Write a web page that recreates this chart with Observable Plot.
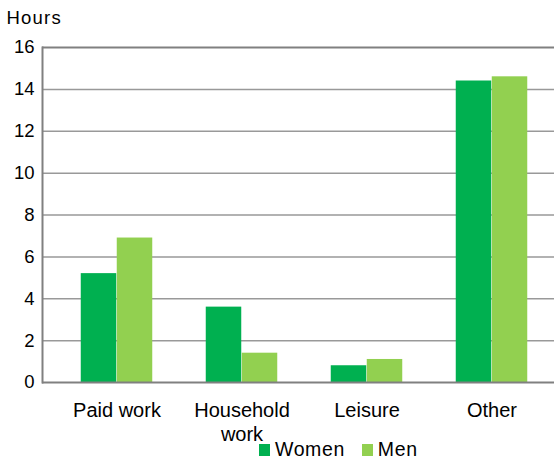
<!DOCTYPE html>
<html>
<head>
<meta charset="utf-8">
<script src="https://cdn.jsdelivr.net/npm/d3@7"></script>
<script src="https://cdn.jsdelivr.net/npm/@observablehq/plot@0.6"></script>
<style>
  body { margin: 0; background: #fff; font-family: "Liberation Sans", Arial, sans-serif; }
  #wrap { position: relative; width: 554px; height: 461px; overflow: hidden; }
  #legend { position: absolute; left: 259px; top: 440px; font-size: 19.5px; line-height: 19px; display: flex; align-items: center; color: #000; letter-spacing: 0.6px; }
  #legend .sw { display: inline-block; width: 11px; height: 12px; margin-right: 5px; }
  #legend .item { display: flex; align-items: center; margin-right: 17px; }
</style>
</head>
<body>
<div id="wrap"><div id="legend"></div></div>
<script>
const categories = ["Paid work", "Household\nwork", "Leisure", "Other"];
const women = [5.2, 3.6, 0.8, 14.4];
const men = [6.9, 1.4, 1.1, 14.6];
const yTicks = [0, 2, 4, 6, 8, 10, 12, 14, 16];
const seriesNames = ["Women", "Men"];
const seriesColors = ["#00B050", "#92D050"];

const data = categories.map((c, i) => ({cat: c, women: women[i], men: men[i]}));

const chart = Plot.plot({
  width: 554,
  height: 461,
  marginLeft: 42,
  marginRight: 0,
  marginTop: 47,
  marginBottom: 79,
  style: {fontFamily: "'Liberation Sans', Arial, sans-serif", fontSize: "18.5px", color: "#000", background: "#fff", overflow: "visible"},
  x: {domain: categories, range: [53, 555], padding: 0, label: null},
  y: {domain: [0, 16], label: null},
  marks: [
    Plot.ruleY(yTicks.filter(d => d > 0 && d < 16), {stroke: "#999999", strokeWidth: 1.5}),
    Plot.ruleY([16], {stroke: "#808080", strokeWidth: 2}),
    Plot.barY(data, {x: "cat", y: "women", fill: seriesColors[0], insetLeft: 26.75, insetRight: 62.75}),
    Plot.barY(data, {x: "cat", y: "men", fill: seriesColors[1], insetLeft: 62.75, insetRight: 26.75}),
    Plot.ruleY([0], {stroke: "#808080", strokeWidth: 2}),
    Plot.frame({anchor: "left", stroke: "#808080", strokeWidth: 2}),
    Plot.axisY(yTicks, {tickSize: 0, tickPadding: 8, fontSize: 18.5, label: null}),
    Plot.axisX({tickSize: 0, tickPadding: 17, fontSize: 20, lineHeight: 1.2, label: null}),
    Plot.text(["Hours"], {frameAnchor: "top-left", dx: -36, dy: -29, fontSize: 18.5, textAnchor: "start", lineAnchor: "middle"})
  ]
});
chart.querySelectorAll("text").forEach(t => { if (t.textContent === "Hours") t.setAttribute("letter-spacing", "1.2"); });
document.getElementById("wrap").prepend(chart);

const legend = document.getElementById("legend");
seriesNames.forEach((n, i) => {
  const it = document.createElement("span");
  it.className = "item";
  it.innerHTML = `<span class="sw" style="background:${seriesColors[i]}"></span>${n}`;
  legend.appendChild(it);
});
</script>
</body>
</html>
